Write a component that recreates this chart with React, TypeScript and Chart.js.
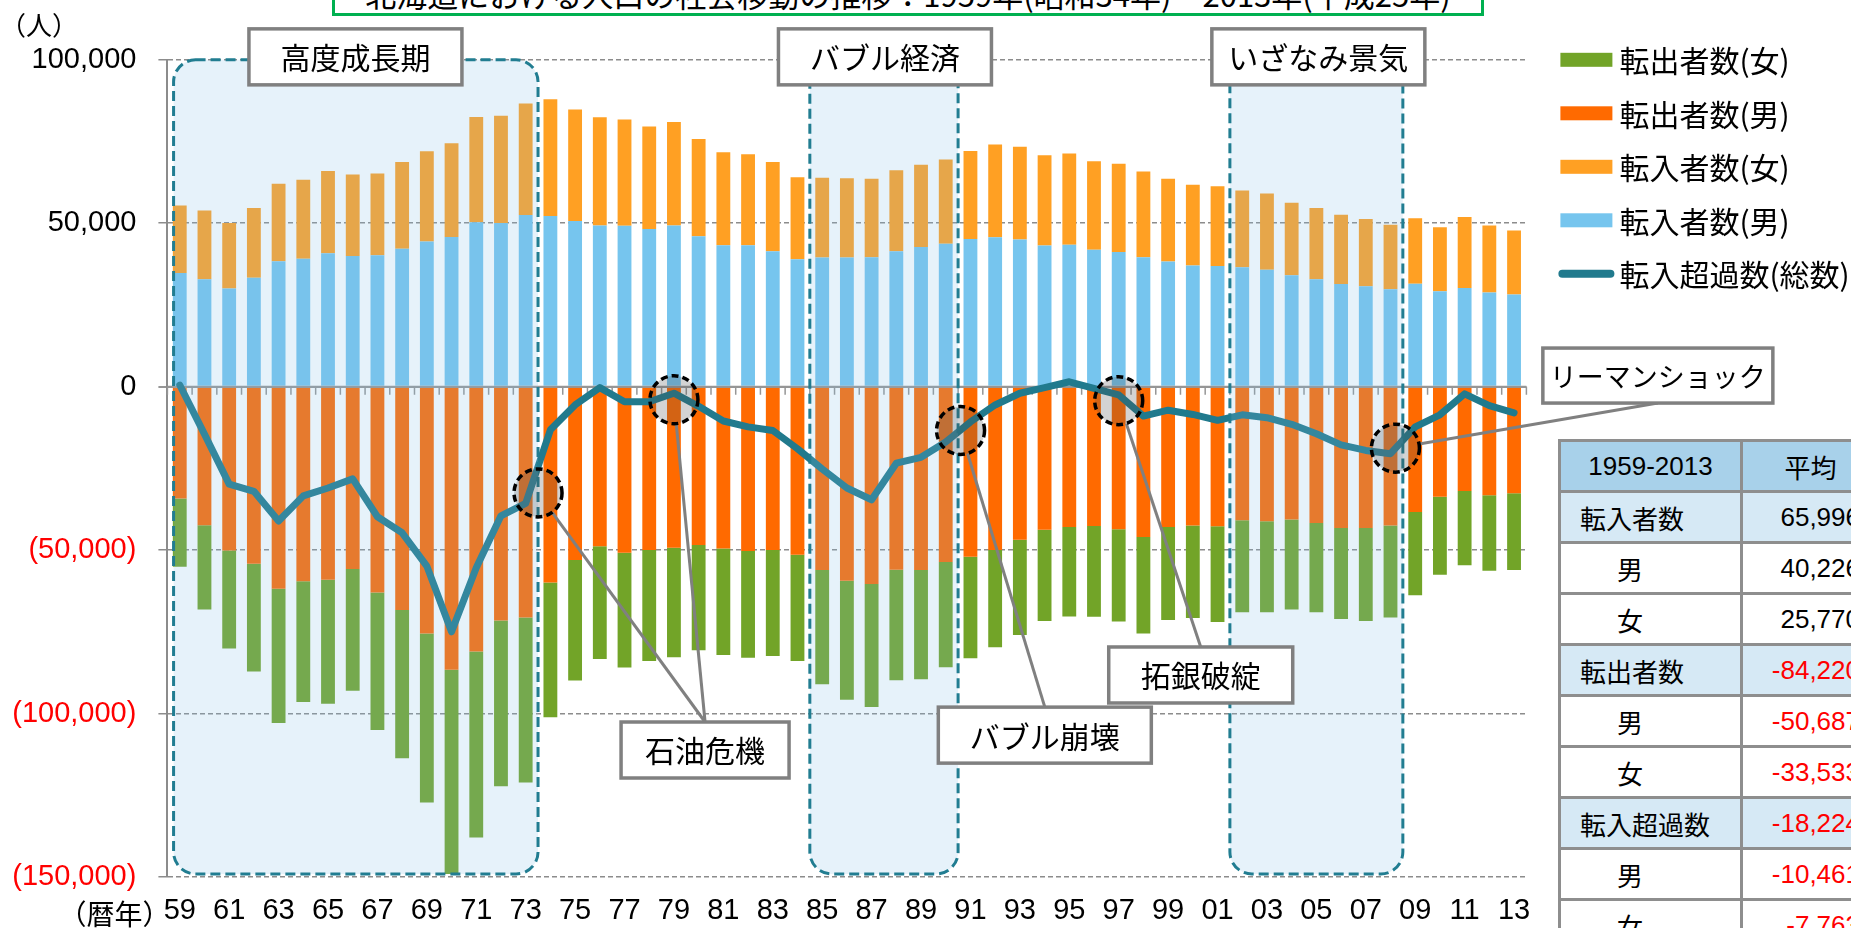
import React, { useEffect, useRef } from 'react';
import { Chart, registerables } from 'chart.js';

Chart.register(...registerables);

// ---------------- data ----------------
const years = [
  '59','60','61','62','63','64','65','66','67','68','69','70','71','72','73','74','75','76','77','78',
  '79','80','81','82','83','84','85','86','87','88','89','90','91','92','93','94','95','96','97','98',
  '99','00','01','02','03','04','05','06','07','08','09','10','11','12','13',
];

// 転入者数(男)
const inMale = [
  34800,32900,30000,33300,38400,39100,40800,40000,40200,42200,
  44400,45800,50300,50100,52500,52200,50700,49300,49200,48200,
  49300,46000,43300,43300,41400,39000,39500,39500,39600,41400,
  42700,43700,45200,45700,45000,43200,43400,41900,41200,39600,
  38300,37100,36900,36500,35800,34100,32900,31400,30700,29800,
  31500,29200,30200,28800,28200,
];
// 転入者数(女)
const inFemale = [
  20600,21000,20100,21400,23700,24200,25200,24900,25000,26500,
  27600,28700,32200,32800,34100,35700,34100,33100,32500,31400,
  31700,29800,28400,27800,27300,25100,24400,24300,24000,24800,
  25200,25800,26900,28400,28400,27600,27900,27100,27000,26200,
  25300,24700,24400,23500,23300,22200,21800,21200,20600,19700,
  20000,19600,21700,20500,19600,
];
// 転出者数(男)
const outMale = [
  -34200,-42400,-50100,-54200,-61800,-59500,-59100,-55800,-63000,-68300,
  -75500,-86600,-81000,-71500,-70600,-59900,-53000,-48800,-50800,-50000,
  -49300,-48400,-49500,-50300,-50000,-51400,-56100,-59400,-60400,-56000,
  -56100,-53600,-52000,-50000,-46800,-43800,-42900,-42600,-43600,-46000,
  -42900,-42500,-42700,-40900,-41200,-40600,-41700,-43200,-43200,-42500,
  -38300,-33700,-31900,-33200,-32600,
];
// 転出者数(女)
const outFemale = [
  -20900,-25800,-30000,-32900,-41100,-37000,-37900,-37200,-42000,-45400,
  -51700,-62500,-56900,-50700,-50500,-41200,-36900,-34500,-35100,-33900,
  -33500,-32200,-32600,-32600,-32400,-32500,-34900,-36400,-37600,-33800,
  -33400,-32200,-31100,-29700,-29200,-27900,-27400,-27800,-28200,-29500,
  -28500,-28300,-29300,-28100,-27800,-27600,-27300,-27900,-28500,-28100,
  -25500,-23800,-22700,-23100,-23500,
];
// 転入超過数(総数)
const netTotal = [
  500,-14500,-29800,-32000,-41100,-33400,-31000,-28200,-39800,-44700,
  -54900,-75000,-55400,-39500,-35700,-13200,-5600,-300,-4600,-4600,
  -2000,-6000,-10500,-12300,-13400,-19000,-25200,-31000,-34600,-23400,
  -21600,-16900,-10800,-5600,-2000,-300,1500,-500,-2500,-9000,
  -7200,-8500,-10300,-8600,-9500,-11500,-14400,-17800,-19500,-20500,
  -12300,-8600,-2200,-5800,-8000,
];

const yMin = -150000;
const yMax = 100000;
const yStep = 50000;

// period bands (category index units)
const periodLabels = ['高度成長期', 'バブル経済', 'いざなみ景気'];
const periodFrom = [-0.25, 25.5, 42.5];
const periodTo = [14.5, 31.5, 49.5];
const periodLabelX = [7.11, 28.54, 46.08];
const periodLabelY = 100900;

// event markers (category index, value)
const markerX = [14.5, 20, 31.6, 38, 49.2];
const markerY = [-32500, -4000, -13400, -4300, -18800];

// callouts
const calloutLabels = ['石油危機', 'バブル崩壊', '拓銀破綻', 'リーマンショック'];
const calloutX = [21.26, 35.01, 41.32, 59.82];
const calloutY = [-111150, -106600, -88200, 3400];
const calloutW = [168, 213, 184, 230];
const calloutAnchor = ['top', 'top', 'top', 'bottom'];
const calloutTargets = [[0, 1], [2], [3], [4]];
const calloutFont = [30, 30, 30, 27];

// table
const tableHead = ['1959-2013', '平均'];
const tableLabels = ['転入者数', '男', '女', '転出者数', '男', '女', '転入超過数', '男', '女'];
const tableValues = ['65,996', '40,226', '25,770', '-84,220', '-50,687', '-33,533', '-18,224', '-10,461', '-7,763'];
const tableMain = [true, false, false, true, false, false, true, false, false];

const titleText = '北海道における人口の社会移動の推移：1959年(昭和34年)～2013年(平成25年)';

const COLORS = {
  inMale: '#76C5EE',
  inFemale: '#FFA023',
  outMale: '#FF6A00',
  outFemale: '#72A428',
  net: '#217A8D',
};

const CJK = '"Noto Sans CJK JP", "Noto Sans CJK SC", sans-serif';
const LATIN = '"Liberation Sans", Arial, "Noto Sans CJK JP", sans-serif';

const fmtTick = (v: number) => {
  const s = Math.abs(v).toLocaleString('en-US');
  return v < 0 ? `(${s})` : s;
};

const MARKER_R = 24;

const overlayPlugin = {
  id: 'overlayPlugin',
  beforeDatasetDraw(chart: any, args: any) {
    if (args.index !== 4) return;
    const { ctx, chartArea } = chart;
    const xs = chart.scales.x;
    const ys = chart.scales.y;
    const y0 = ys.getPixelForValue(0);
    ctx.save();
    ctx.setLineDash([]);
    ctx.strokeStyle = '#969696';
    ctx.lineWidth = 2;
    ctx.beginPath();
    ctx.moveTo(chartArea.left, y0);
    ctx.lineTo(chartArea.right, y0);
    ctx.stroke();
    ctx.lineWidth = 1.5;
    ctx.beginPath();
    for (let i = 0; i <= years.length; i++) {
      const px = xs.getPixelForValue(i - 0.5);
      ctx.moveTo(px, y0);
      ctx.lineTo(px, y0 + 8);
    }
    ctx.stroke();
    ctx.restore();
  },
  afterDatasetsDraw(chart: any) {
    const { ctx } = chart;
    const xs = chart.scales.x;
    const ys = chart.scales.y;
    ctx.save();
    const yTop = ys.getPixelForValue(yMax);
    const yBot = ys.getPixelForValue(yMin);

    // period bands
    periodLabels.forEach((_, i) => {
      const x1 = xs.getPixelForValue(periodFrom[i]);
      const x2 = xs.getPixelForValue(periodTo[i]);
      ctx.beginPath();
      ctx.roundRect(x1, yTop, x2 - x1, yBot - yTop - 3, 22);
      ctx.fillStyle = 'rgba(130,190,230,0.2)';
      ctx.fill();
      ctx.setLineDash([10, 5]);
      ctx.lineWidth = 3;
      ctx.strokeStyle = '#217D91';
      ctx.stroke();
    });

    // callout lines
    ctx.setLineDash([]);
    ctx.strokeStyle = '#808080';
    ctx.lineWidth = 3;
    calloutLabels.forEach((_, i) => {
      const cx = xs.getPixelForValue(calloutX[i]);
      const cy = ys.getPixelForValue(calloutY[i]);
      const ay = calloutAnchor[i] === 'top' ? cy - 28 : cy + 27.5;
      calloutTargets[i].forEach((t) => {
        const mx = xs.getPixelForValue(markerX[t]);
        const my = ys.getPixelForValue(markerY[t]);
        const dx = cx - mx;
        const dy = ay - my;
        const d = Math.hypot(dx, dy);
        ctx.beginPath();
        ctx.moveTo(cx, ay);
        ctx.lineTo(mx + (dx / d) * MARKER_R, my + (dy / d) * MARKER_R);
        ctx.stroke();
      });
    });

    // markers
    markerX.forEach((_, i) => {
      const mx = xs.getPixelForValue(markerX[i]);
      const my = ys.getPixelForValue(markerY[i]);
      ctx.beginPath();
      ctx.arc(mx, my, MARKER_R, 0, Math.PI * 2);
      ctx.fillStyle = 'rgba(80,80,80,0.25)';
      ctx.fill();
      ctx.setLineDash([7, 4]);
      ctx.lineWidth = 3.5;
      ctx.strokeStyle = '#000';
      ctx.stroke();
    });

    const drawBox = (cx: number, cy: number, w: number, h: number, text: string, size: number) => {
      ctx.setLineDash([]);
      ctx.fillStyle = '#fff';
      ctx.fillRect(cx - w / 2, cy - h / 2, w, h);
      ctx.lineWidth = 3.5;
      ctx.strokeStyle = '#808080';
      ctx.strokeRect(cx - w / 2, cy - h / 2, w, h);
      ctx.fillStyle = '#000';
      ctx.font = `${size}px ${CJK}`;
      ctx.textAlign = 'center';
      ctx.textBaseline = 'middle';
      ctx.fillText(text, cx, cy + 1);
    };

    periodLabels.forEach((t, i) => {
      drawBox(xs.getPixelForValue(periodLabelX[i]), ys.getPixelForValue(periodLabelY), 213, 56, t, 30);
    });
    calloutLabels.forEach((t, i) => {
      const h = calloutAnchor[i] === 'top' ? 56 : 55;
      drawBox(xs.getPixelForValue(calloutX[i]), ys.getPixelForValue(calloutY[i]), calloutW[i], h, t, calloutFont[i]);
    });
    ctx.restore();
  },
  afterDraw(chart: any) {
    const { ctx, chartArea } = chart;
    ctx.save();
    // legend
    const order = [3, 2, 1, 0, 4];
    const lx = chartArea.right + 34;
    order.forEach((di, k) => {
      const ds = chart.data.datasets[di];
      const cy = chartArea.top + k * 53.5;
      if (ds.type === 'line') {
        ctx.strokeStyle = ds.borderColor;
        ctx.lineWidth = 8;
        ctx.lineCap = 'round';
        ctx.beginPath();
        ctx.moveTo(lx + 2, cy);
        ctx.lineTo(lx + 50, cy);
        ctx.stroke();
      } else {
        ctx.fillStyle = ds.backgroundColor;
        ctx.fillRect(lx, cy - 7, 52, 14);
      }
      ctx.fillStyle = '#000';
      ctx.font = `30px ${CJK}`;
      ctx.textAlign = 'left';
      ctx.textBaseline = 'middle';
      ctx.fillText(ds.label, lx + 59, cy + 1);
    });
    // axis titles
    ctx.font = `26px ${CJK}`;
    ctx.textAlign = 'left';
    ctx.textBaseline = 'middle';
    ctx.fillText('（人）', 0, 25);
    ctx.font = `28px ${CJK}`;
    ctx.textAlign = 'right';
    ctx.fillText('（暦年）', chartArea.left + 3, chart.chartArea.bottom + 37);
    ctx.restore();
  },
};

function ChartCanvas() {
  const ref = useRef<HTMLCanvasElement>(null);
  useEffect(() => {
    if (!ref.current) return;
    Chart.defaults.font.family = LATIN;
    const chart = new Chart(ref.current, {
      type: 'bar',
      data: {
        labels: years,
        datasets: [
          { type: 'bar', label: '転入者数(男)', data: inMale, backgroundColor: COLORS.inMale, order: 1, barPercentage: 0.56, categoryPercentage: 1 },
          { type: 'bar', label: '転入者数(女)', data: inFemale, backgroundColor: COLORS.inFemale, order: 1, barPercentage: 0.56, categoryPercentage: 1 },
          { type: 'bar', label: '転出者数(男)', data: outMale, backgroundColor: COLORS.outMale, order: 1, barPercentage: 0.56, categoryPercentage: 1 },
          { type: 'bar', label: '転出者数(女)', data: outFemale, backgroundColor: COLORS.outFemale, order: 1, barPercentage: 0.56, categoryPercentage: 1 },
          { type: 'line', label: '転入超過数(総数)', data: netTotal, borderColor: COLORS.net, backgroundColor: COLORS.net, borderWidth: 7, pointRadius: 0, tension: 0, order: 0, borderCapStyle: 'round', borderJoinStyle: 'round' },
        ] as any,
      },
      options: {
        responsive: false,
        maintainAspectRatio: false,
        animation: false,
        layout: { padding: { top: 59.8, right: 324.6, left: 0, bottom: 0 } },
        plugins: { legend: { display: false }, tooltip: { enabled: false }, title: { display: false } },
        scales: {
          x: {
            stacked: true,
            afterFit: (s: any) => { s.height = 51; },
            grid: { display: false, drawTicks: false },
            border: { display: false },
            ticks: {
              autoSkip: false,
              maxRotation: 0,
              minRotation: 0,
              padding: 17,
              color: '#000',
              font: { size: 29 },
              callback: (_v: any, i: number) => (i % 2 === 0 ? years[i] : ''),
            },
          },
          y: {
            stacked: true,
            min: yMin,
            max: yMax,
            afterFit: (s: any) => { s.width = 167.4; },
            ticks: {
              stepSize: yStep,
              padding: 22,
              font: { size: 29 },
              color: (c: any) => (c.tick && c.tick.value < 0 ? '#FF0000' : '#000'),
              callback: (v: any) => fmtTick(Number(v)),
            },
            grid: {
              color: (c: any) => (c.tick && c.tick.value === 0 ? '#969696' : '#8C8C8C'),
              lineWidth: (c: any) => (c.tick && c.tick.value === 0 ? 2 : 1.5),
              tickLength: 9,
              drawTicks: true,
            },
            border: {
              display: true,
              color: '#8C8C8C',
              width: 2,
              dash: (c: any) => (c.tick && c.tick.value === 0 ? [] : [5, 3]),
            },
          },
        },
      } as any,
      plugins: [overlayPlugin],
    });
    return () => chart.destroy();
  }, []);
  return <canvas ref={ref} width={1851} height={928} style={{ position: 'absolute', left: 0, top: 0, width: 1851, height: 928 }} />;
}

export default function App() {
  const cellBorder = '3px solid #8E8E8E';
  return (
    <div style={{ position: 'fixed', left: 0, top: 0, width: 1851, height: 928, overflow: 'hidden', background: '#fff' }}>
      <ChartCanvas />
      <div
        style={{
          position: 'absolute', left: 332, top: -40, width: 1152, height: 56, boxSizing: 'border-box',
          border: '3px solid #00B050', background: '#fff', overflow: 'hidden',
        }}
      >
        <div style={{ position: 'absolute', left: 0, right: 0, top: 13, lineHeight: '36px', fontSize: 31, fontFamily: CJK, textAlign: 'center', color: '#000', whiteSpace: 'nowrap' }}>
          {titleText}
        </div>
      </div>
      <table
        style={{
          position: 'absolute', left: 1558, top: 439, borderCollapse: 'collapse', tableLayout: 'fixed',
          width: 320, fontFamily: LATIN, fontSize: 26, color: '#000',
        }}
      >
        <colgroup>
          <col style={{ width: 182 }} />
          <col style={{ width: 138 }} />
        </colgroup>
        <tbody>
          <tr style={{ height: 51, background: '#A8D1EA' }}>
            <td style={{ border: cellBorder, textAlign: 'center', padding: 0 }}>{tableHead[0]}</td>
            <td style={{ border: cellBorder, textAlign: 'center', padding: 0, fontFamily: CJK }}>{tableHead[1]}</td>
          </tr>
          {tableLabels.map((lab, i) => (
            <tr key={i} style={{ height: 51, background: tableMain[i] ? '#D6E9F5' : '#FFFFFF' }}>
              <td style={{ border: cellBorder, padding: `0 0 0 ${tableMain[i] ? 19 : 56}px`, fontFamily: CJK, whiteSpace: 'nowrap' }}>{lab}</td>
              <td style={{ border: cellBorder, padding: '0 18px 0 0', textAlign: 'right', color: tableValues[i].startsWith('-') ? '#FF0000' : '#000', whiteSpace: 'nowrap' }}>{tableValues[i]}</td>
            </tr>
          ))}
        </tbody>
      </table>
    </div>
  );
}
